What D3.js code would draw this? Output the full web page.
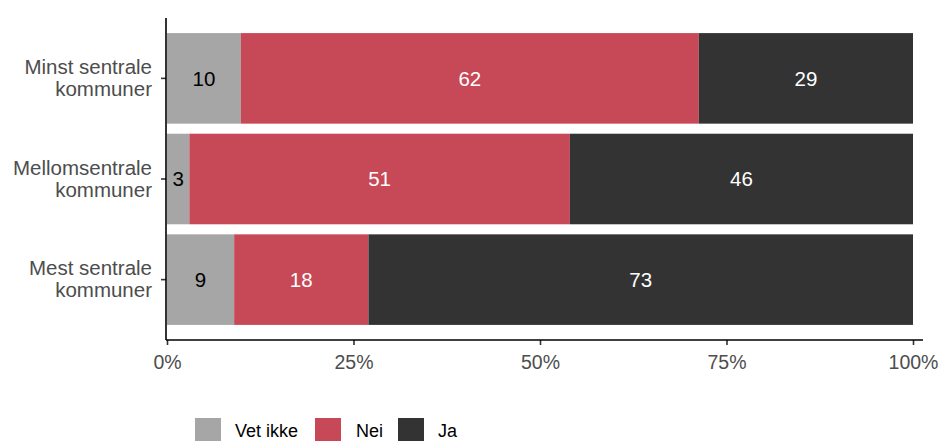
<!DOCTYPE html>
<html>
<head>
<meta charset="utf-8">
<script src="https://cdn.jsdelivr.net/npm/d3@7"></script>
<style>
  html, body { margin: 0; padding: 0; background: #fff; }
  svg text { font-family: "Liberation Sans", Arial, sans-serif; }
</style>
</head>
<body>
<svg id="chart" width="941" height="441"></svg>
<script>
// Categories (top to bottom) and answer groups
const categories = ["Minst sentrale kommuner", "Mellomsentrale kommuner", "Mest sentrale kommuner"];
const categoryLines = [["Minst sentrale", "kommuner"], ["Mellomsentrale", "kommuner"], ["Mest sentrale", "kommuner"]];
const groups = ["Vet ikke", "Nei", "Ja"];

// Percent answering each option, per category
const vetIkke = [10, 3, 9];
const nei = [62, 51, 18];
const ja = [29, 46, 73];

const xTicks = [0, 0.25, 0.5, 0.75, 1];
const xTickLabels = ["0%", "25%", "50%", "75%", "100%"];

const colors = { "Vet ikke": "#a6a6a6", "Nei": "#c74957", "Ja": "#333333" };
const labelColors = { "Vet ikke": "#000000", "Nei": "#ffffff", "Ja": "#ffffff" };

const rows = categories.map((c, i) => ({ category: c, "Vet ikke": vetIkke[i], "Nei": nei[i], "Ja": ja[i] }));

const svg = d3.select("#chart");
const panel = { left: 166, right: 923, top: 18, bottom: 340 };

const x = d3.scaleLinear().domain([0, 1]).range([167, 913]);
const y = d3.scaleBand().domain(categories)
  .range([panel.top, panel.bottom])
  .paddingInner(0.1).paddingOuter(0.15).align(0.5);

const stacked = d3.stack().keys(groups).offset(d3.stackOffsetExpand)(rows);

const layer = svg.append("g").selectAll("g")
  .data(stacked).join("g")
  .attr("fill", d => colors[d.key]);

layer.selectAll("rect")
  .data(d => d.map(p => ({ key: d.key, p })))
  .join("rect")
  .attr("x", d => x(d.p[0]))
  .attr("width", d => x(d.p[1]) - x(d.p[0]))
  .attr("y", d => y(d.p.data.category))
  .attr("height", y.bandwidth());

// Value labels in the middle of each segment
svg.append("g").selectAll("g")
  .data(stacked).join("g")
  .selectAll("text")
  .data(d => d.map(p => ({ key: d.key, p })))
  .join("text")
  .attr("x", d => (x(d.p[0]) + x(d.p[1])) / 2)
  .attr("y", d => y(d.p.data.category) + y.bandwidth() / 2)
  .attr("dy", "0.36em")
  .attr("text-anchor", "middle")
  .attr("font-size", 20.5)
  .attr("fill", d => labelColors[d.key])
  .text(d => d.p.data[d.key]);

// X axis
const xAxis = d3.axisBottom(x).tickValues(xTicks)
  .tickFormat((d, i) => xTickLabels[i]).tickSize(5).tickSizeOuter(0);
const gx = svg.append("g").attr("transform", `translate(0,${panel.bottom})`).call(xAxis);
gx.select(".domain").remove();
gx.append("line").attr("x1", panel.left).attr("x2", panel.right)
  .attr("stroke", "#000").attr("stroke-width", 1.6);
gx.selectAll(".tick line").attr("stroke", "#333").attr("stroke-width", 1.6);
gx.selectAll(".tick text").attr("font-size", 19.5).attr("fill", "#4d4d4d")
  .attr("y", 29).attr("dy", 0).attr("font-family", "Liberation Sans, Arial, sans-serif");

// Y axis
const yAxis = d3.axisLeft(y).tickSize(5).tickSizeOuter(0).tickFormat("");
const gy = svg.append("g").attr("transform", `translate(${panel.left},0)`).call(yAxis);
gy.select(".domain").remove();
gy.append("line").attr("y1", panel.top).attr("y2", panel.bottom)
  .attr("stroke", "#000").attr("stroke-width", 1.6);
gy.selectAll(".tick line").attr("stroke", "#333").attr("stroke-width", 1.6);

const yLabels = svg.append("g").selectAll("text")
  .data(categories).join("text")
  .attr("text-anchor", "end")
  .attr("font-size", 20.5)
  .attr("fill", "#4d4d4d")
  .attr("x", 152)
  .attr("y", d => y(d) + y.bandwidth() / 2);
yLabels.each(function (d, i) {
  const t = d3.select(this);
  categoryLines[i].forEach((line, j) => {
    t.append("tspan").attr("x", 152)
      .attr("dy", j === 0 ? -4.5 : 22.3)
      .text(line);
  });
});

// Legend
const legendItems = [
  { key: "Vet ikke", sx: 195, tx: 235 },
  { key: "Nei", sx: 315, tx: 356 },
  { key: "Ja", sx: 398, tx: 438 }
];
const legend = svg.append("g");
legend.selectAll("rect").data(legendItems).join("rect")
  .attr("x", d => d.sx).attr("y", 418).attr("width", 26).attr("height", 26)
  .attr("fill", d => colors[d.key]);
legend.selectAll("text").data(legendItems).join("text")
  .attr("x", d => d.tx).attr("y", 437)
  .attr("font-size", 18).attr("fill", "#000")
  .text(d => d.key);
</script>
</body>
</html>
